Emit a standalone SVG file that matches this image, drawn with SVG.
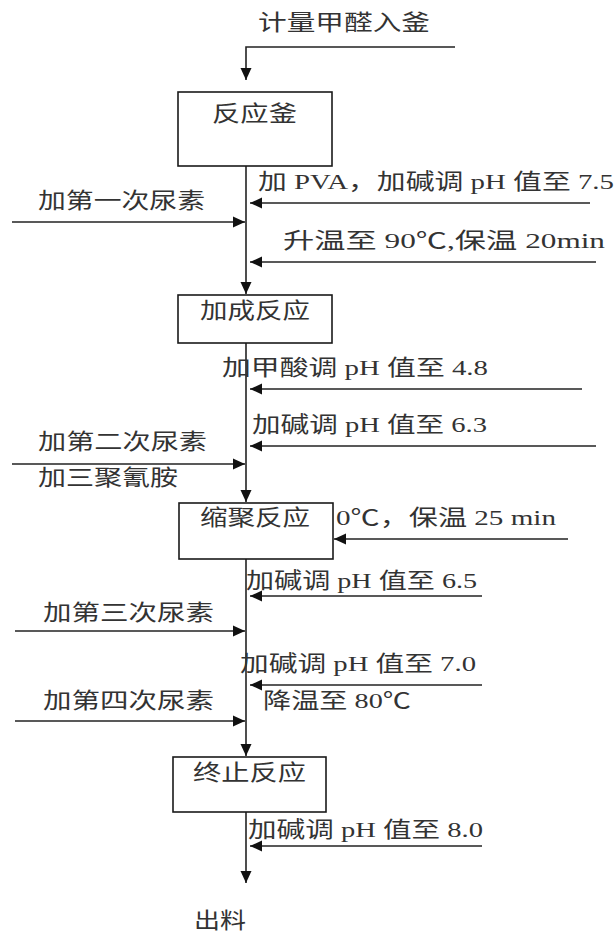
<svg xmlns="http://www.w3.org/2000/svg" width="616" height="936" viewBox="0 0 616 936">
<style>
text{font-family:"Liberation Serif","Noto Sans CJK SC",serif;font-size:22px;fill:#333}
.box{fill:#fff;stroke:#1a1a1a;stroke-width:1.6}
.ln{fill:none;stroke:#222;stroke-width:1.6}
</style>
<defs>
<marker id="ah" markerUnits="userSpaceOnUse" markerWidth="13" markerHeight="12" refX="12" refY="6" orient="auto">
<path d="M0,0.5 L12,6 L0,11.5 z" fill="#111"/>
</marker>
</defs>
<rect width="616" height="936" fill="#fff"/>
<g id="connectors">
<polyline class="ln" points="455,47 246,47 246,80" marker-end="url(#ah)"/>
<line class="ln" x1="246" y1="166" x2="246" y2="294" marker-end="url(#ah)"/>
<line class="ln" x1="590" y1="203" x2="250" y2="203" marker-end="url(#ah)"/>
<line class="ln" x1="596" y1="262" x2="250" y2="262" marker-end="url(#ah)"/>
<line class="ln" x1="12" y1="222" x2="245" y2="222" marker-end="url(#ah)"/>
<line class="ln" x1="246" y1="343" x2="246" y2="502" marker-end="url(#ah)"/>
<line class="ln" x1="582" y1="389" x2="250" y2="389" marker-end="url(#ah)"/>
<line class="ln" x1="596" y1="446" x2="250" y2="446" marker-end="url(#ah)"/>
<line class="ln" x1="12" y1="464" x2="245" y2="464" marker-end="url(#ah)"/>
<line class="ln" x1="568" y1="539" x2="334" y2="539" marker-end="url(#ah)"/>
<line class="ln" x1="246" y1="559" x2="246" y2="756" marker-end="url(#ah)"/>
<line class="ln" x1="482" y1="596" x2="250" y2="596" marker-end="url(#ah)"/>
<line class="ln" x1="482" y1="685" x2="250" y2="685" marker-end="url(#ah)"/>
<line class="ln" x1="15" y1="631" x2="245" y2="631" marker-end="url(#ah)"/>
<line class="ln" x1="15" y1="721" x2="245" y2="721" marker-end="url(#ah)"/>
<line class="ln" x1="246" y1="812" x2="246" y2="883" marker-end="url(#ah)"/>
<line class="ln" x1="482" y1="846" x2="250" y2="846" marker-end="url(#ah)"/>
</g>
<g id="n-start"><text x="258" y="30" textLength="172" lengthAdjust="spacingAndGlyphs">计量甲醛入釜</text></g>
<g id="n-reactor"><rect class="box" x="178" y="92" width="154" height="74"/><text x="212" y="121" textLength="85" lengthAdjust="spacingAndGlyphs">反应釜</text></g>
<g id="n-addition"><rect class="box" x="178" y="295" width="154" height="48"/><text x="200" y="318" textLength="110" lengthAdjust="spacingAndGlyphs">加成反应</text></g>
<g id="n-condense"><rect class="box" x="179" y="503" width="154" height="56"/><text x="200" y="525" textLength="110" lengthAdjust="spacingAndGlyphs">缩聚反应</text></g>
<g id="n-stop"><rect class="box" x="173" y="757" width="153" height="55"/><text x="193" y="780" textLength="113" lengthAdjust="spacingAndGlyphs">终止反应</text></g>
<g id="n-out"><text x="194" y="928" textLength="52" lengthAdjust="spacingAndGlyphs">出料</text></g>
<g id="labels">
<text x="258" y="189" textLength="356" lengthAdjust="spacingAndGlyphs">加 PVA，加碱调 pH 值至 7.5</text>
<text x="38" y="208" textLength="167" lengthAdjust="spacingAndGlyphs">加第一次尿素</text>
<text x="283" y="248" textLength="322" lengthAdjust="spacingAndGlyphs">升温至 90℃,保温 20min</text>
<text x="222" y="375" textLength="266" lengthAdjust="spacingAndGlyphs">加甲酸调 pH 值至 4.8</text>
<text x="252" y="432" textLength="235" lengthAdjust="spacingAndGlyphs">加碱调 pH 值至 6.3</text>
<text x="38" y="449" textLength="169" lengthAdjust="spacingAndGlyphs">加第二次尿素</text>
<text x="38" y="485" textLength="140" lengthAdjust="spacingAndGlyphs">加三聚氰胺</text>
<text x="336" y="525" textLength="220" lengthAdjust="spacingAndGlyphs">0℃，保温 25 min</text>
<text x="246" y="588" textLength="231" lengthAdjust="spacingAndGlyphs">加碱调 pH 值至 6.5</text>
<text x="43" y="620" textLength="171" lengthAdjust="spacingAndGlyphs">加第三次尿素</text>
<text x="240" y="671" textLength="236" lengthAdjust="spacingAndGlyphs">加碱调 pH 值至 7.0</text>
<text x="263" y="708" textLength="148" lengthAdjust="spacingAndGlyphs">降温至 80℃</text>
<text x="43" y="708" textLength="171" lengthAdjust="spacingAndGlyphs">加第四次尿素</text>
<text x="248" y="837" textLength="235" lengthAdjust="spacingAndGlyphs">加碱调 pH 值至 8.0</text>
</g>
</svg>
